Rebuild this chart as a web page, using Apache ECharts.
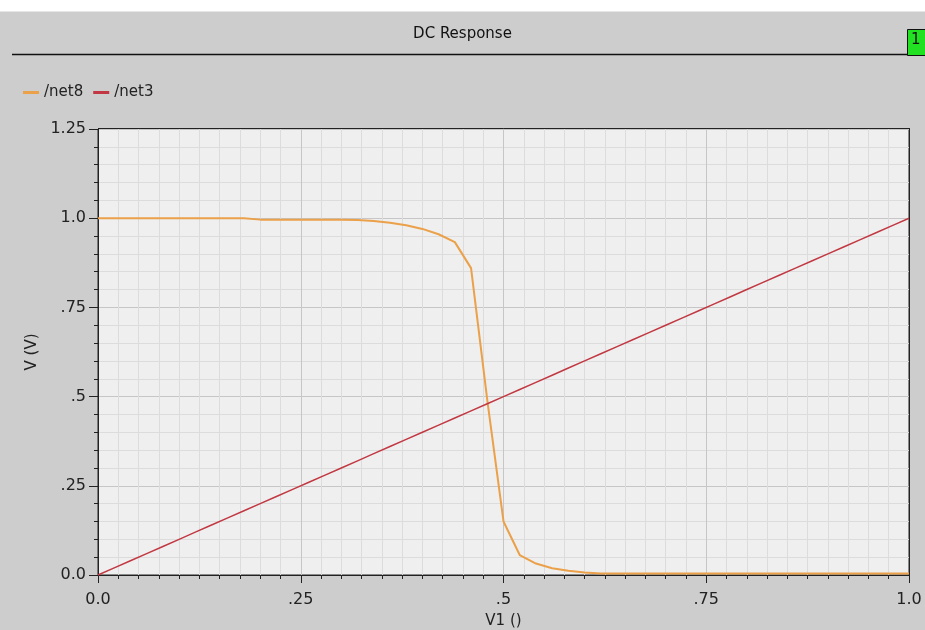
<!DOCTYPE html>
<html>
<head>
<meta charset="utf-8">
<script src="https://cdn.jsdelivr.net/npm/echarts@6/dist/echarts.min.js"></script>
<style>
  html, body { margin: 0; padding: 0; background: #cdcdcd; }
  #chart { width: 925px; height: 630px; }
</style>
</head>
<body>
<div id="chart"></div>
<script>
// sweep of V1 (step .02)
var sweep = [0, 0.02, 0.04, 0.06, 0.08, 0.10, 0.12, 0.14, 0.16, 0.18,
  0.20, 0.22, 0.24, 0.26, 0.28, 0.30, 0.32, 0.34, 0.36, 0.38,
  0.40, 0.42, 0.44, 0.46, 0.48, 0.50, 0.52, 0.54, 0.56, 0.58,
  0.60, 0.62, 0.64, 0.66, 0.68, 0.70, 0.72, 0.74, 0.76, 0.78,
  0.80, 0.82, 0.84, 0.86, 0.88, 0.90, 0.92, 0.94, 0.96, 0.98, 1.0];

// /net8 - inverter output
var net8 = [1.0, 1.0, 1.0, 1.0, 1.0, 1.0, 1.0, 1.0, 1.0, 1.0,
  0.996, 0.996, 0.996, 0.996, 0.996, 0.996, 0.995, 0.992, 0.987, 0.980,
  0.970, 0.955, 0.933, 0.860, 0.490, 0.150, 0.056, 0.032, 0.019, 0.012,
  0.007, 0.004, 0.004, 0.004, 0.004, 0.004, 0.004, 0.004, 0.004, 0.004,
  0.004, 0.004, 0.004, 0.004, 0.004, 0.004, 0.004, 0.004, 0.004, 0.004, 0.004];

// /net3 - input
var net3 = [0, 0.02, 0.04, 0.06, 0.08, 0.10, 0.12, 0.14, 0.16, 0.18,
  0.20, 0.22, 0.24, 0.26, 0.28, 0.30, 0.32, 0.34, 0.36, 0.38,
  0.40, 0.42, 0.44, 0.46, 0.48, 0.50, 0.52, 0.54, 0.56, 0.58,
  0.60, 0.62, 0.64, 0.66, 0.68, 0.70, 0.72, 0.74, 0.76, 0.78,
  0.80, 0.82, 0.84, 0.86, 0.88, 0.90, 0.92, 0.94, 0.96, 0.98, 1.0];

var xTickLabels = { 0: '0.0', 0.25: '.25', 0.5: '.5', 0.75: '.75', 1: '1.0' };
var yTickLabels = { 0: '0.0', 0.25: '.25', 0.5: '.5', 0.75: '.75', 1: '1.0', 1.25: '1.25' };

function pairs(xs, ys) {
  return xs.map(function (x, i) { return [x, ys[i]]; });
}

var font = 'DejaVu Sans';
var chart = echarts.init(document.getElementById('chart'));

chart.setOption({
  backgroundColor: '#cdcdcd',
  animation: false,
  title: {
    text: 'DC Response',
    left: 'center',
    top: 22,
    textStyle: { fontFamily: font, fontSize: 15, fontWeight: 'normal', color: '#111' }
  },
  legend: {
    left: 18,
    top: 80,
    itemGap: 10,
    itemWidth: 16,
    itemHeight: 3,
    icon: 'rect',
    textStyle: { fontFamily: font, fontSize: 15, color: '#222' },
    data: ['/net8', '/net3']
  },
  grid: {
    left: 98, right: 16, top: 129, bottom: 55,
    outerBoundsMode: 'none',
    show: true,
    backgroundColor: '#efefef',
    borderColor: '#222',
    borderWidth: 1
  },
  graphic: [
    { type: 'rect', shape: { x: 0, y: 0, width: 925, height: 11 }, style: { fill: '#ffffff' } },
    { type: 'line', shape: { x1: 0, y1: 11.5, x2: 925, y2: 11.5 }, style: { stroke: '#e6e6e6', lineWidth: 1 } },
    { type: 'line', shape: { x1: 12, y1: 54.5, x2: 908, y2: 54.5 }, style: { stroke: '#111', lineWidth: 1.5 } },
    { type: 'rect', shape: { x: 907.5, y: 29.5, width: 18, height: 26 }, style: { fill: '#22e022', stroke: '#111', lineWidth: 1 } },
    { type: 'text', x: 911, y: 33, style: { text: '1', font: '15px DejaVu Sans', fill: '#111' } },
    // top and right frame of the plot, drawn over the grid lines
    { type: 'line', z: 10, shape: { x1: 98, y1: 128.5, x2: 909, y2: 128.5 }, style: { stroke: '#222', lineWidth: 1 } },
    { type: 'line', z: 10, shape: { x1: 909.5, y1: 128, x2: 909.5, y2: 575 }, style: { stroke: '#222', lineWidth: 1 } }
  ],
  xAxis: {
    type: 'value',
    min: 0, max: 1, interval: 0.25,
    name: 'V1 ()',
    nameLocation: 'middle',
    nameGap: 39,
    nameTextStyle: { fontFamily: font, fontSize: 15, color: '#222' },
    axisLine: { onZero: false, lineStyle: { color: '#222', width: 1 } },
    axisTick: { show: true, length: 8, lineStyle: { color: '#222' } },
    minorTick: { show: true, splitNumber: 10, length: 4, lineStyle: { color: '#222' } },
    axisLabel: {
      margin: 17,
      fontFamily: font, fontSize: 16, color: '#222',
      formatter: function (v) { return xTickLabels[v] !== undefined ? xTickLabels[v] : ''; }
    },
    splitLine: { show: true, lineStyle: { color: '#c6c6c6', width: 1 } },
    minorSplitLine: { show: true, lineStyle: { color: '#dcdcdc', width: 1 } }
  },
  yAxis: {
    type: 'value',
    min: 0, max: 1.25, interval: 0.25,
    name: 'V (V)',
    nameLocation: 'middle',
    nameGap: 58,
    nameRotate: 90,
    nameTextStyle: { fontFamily: font, fontSize: 15, color: '#222' },
    axisLine: { show: true, onZero: false, lineStyle: { color: '#222', width: 1 } },
    axisTick: { show: true, length: 9, lineStyle: { color: '#222' } },
    minorTick: { show: true, splitNumber: 5, length: 4, lineStyle: { color: '#222' } },
    axisLabel: {
      margin: 12,
      fontFamily: font, fontSize: 16, color: '#222',
      formatter: function (v) { return yTickLabels[v] !== undefined ? yTickLabels[v] : ''; }
    },
    splitLine: { show: true, lineStyle: { color: '#c6c6c6', width: 1 } },
    minorSplitLine: { show: true, lineStyle: { color: '#dcdcdc', width: 1 } }
  },
  series: [
    {
      name: '/net8',
      type: 'line',
      showSymbol: false,
      color: '#eba04a',
      lineStyle: { color: '#eba04a', width: 2 },
      data: pairs(sweep, net8)
    },
    {
      name: '/net3',
      type: 'line',
      showSymbol: false,
      color: '#c23842',
      lineStyle: { color: '#c23842', width: 1.5 },
      data: pairs(sweep, net3)
    }
  ]
});
</script>
</body>
</html>
